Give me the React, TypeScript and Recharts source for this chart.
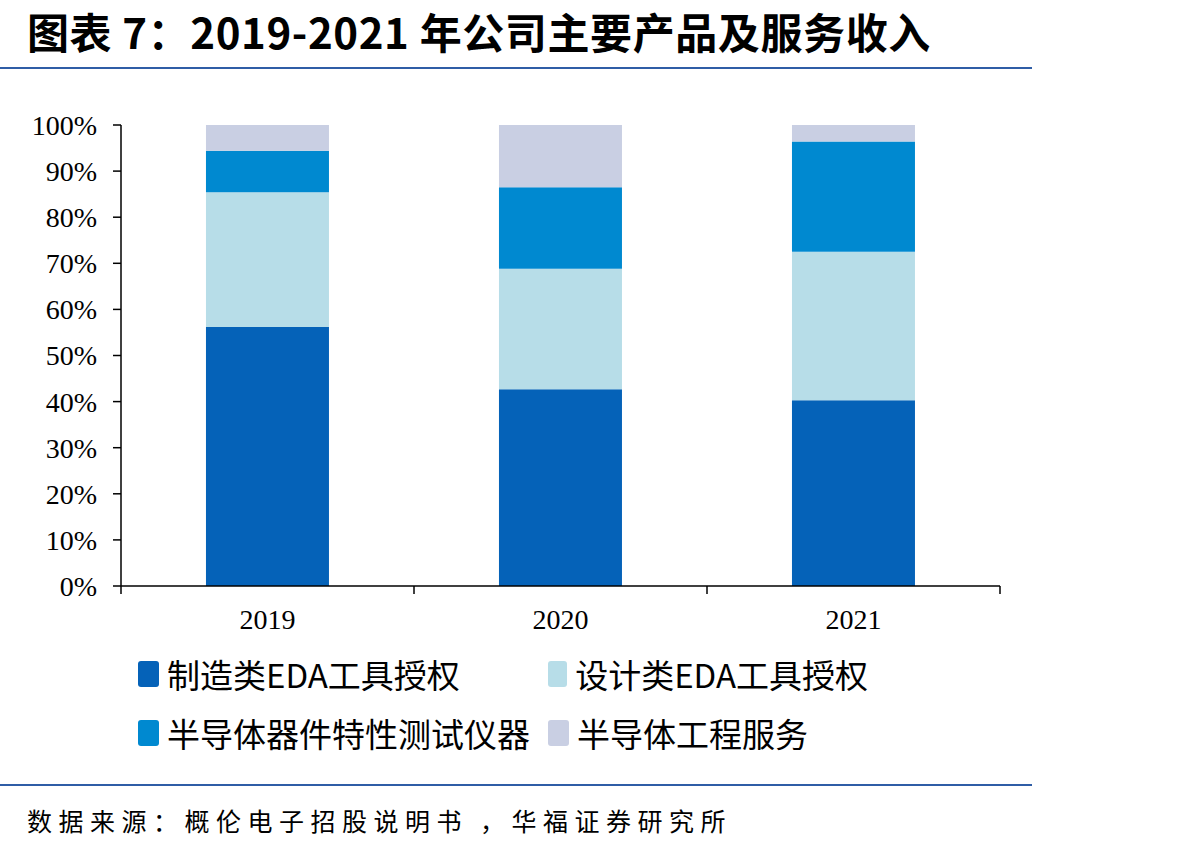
import { Bar, BarChart, XAxis, YAxis } from "recharts";

const years = ["2019", "2020", "2021"];
const mfgEda = [56.2, 42.7, 40.3];
const designEda = [29.2, 26.1, 32.2];
const testInstr = [9.0, 17.7, 23.9];
const engService = [5.6, 13.5, 3.6];
const yTicks = [0, 10, 20, 30, 40, 50, 60, 70, 80, 90, 100];

const series = [
  { key: "mfgEda", name: "制造类EDA工具授权", color: "#0562B8", values: mfgEda },
  { key: "designEda", name: "设计类EDA工具授权", color: "#B7DDE8", values: designEda },
  { key: "testInstr", name: "半导体器件特性测试仪器", color: "#0089D0", values: testInstr },
  { key: "engService", name: "半导体工程服务", color: "#C9CFE3", values: engService },
];

const data = years.map((year, i) => {
  const row: Record<string, string | number> = { year };
  series.forEach((s) => {
    row[s.key] = s.values[i];
  });
  return row;
});

const CHART_W = 1040;
const CHART_H = 700;
const MARGIN = { top: 125, right: 40, left: 0, bottom: 0 };
const Y_W = 121;
const HALF_BAND = (CHART_W - MARGIN.left - MARGIN.right - Y_W) / years.length / 2;

const serif = "'Liberation Serif', 'Times New Roman', serif";
const cjk = "'Noto Sans CJK SC', 'Noto Sans', sans-serif";

function YearTick(props: any) {
  const { x, y, payload, index } = props;
  const top = y - 8;
  return (
    <g>
      <line x1={x - HALF_BAND} x2={x - HALF_BAND} y1={top} y2={y} stroke="#000" strokeWidth={1.5} />
      {index === years.length - 1 && (
        <line x1={x + HALF_BAND} x2={x + HALF_BAND} y1={top} y2={y} stroke="#000" strokeWidth={1.5} />
      )}
      <text x={x} y={y + 35} textAnchor="middle" fontFamily={serif} fontSize={28} fill="#000">
        {payload.value}
      </text>
    </g>
  );
}

export default function App() {
  return (
    <div
      style={{
        position: "absolute",
        left: 0,
        top: 0,
        width: 1189,
        height: 850,
        background: "#fff",
        overflow: "hidden",
      }}
    >
      <div
        style={{
          position: "absolute",
          left: 27,
          top: 0,
          fontFamily: cjk,
          fontWeight: 700,
          fontSize: 42,
          letterSpacing: 0.6,
          lineHeight: "normal",
          color: "#000",
          whiteSpace: "nowrap",
        }}
      >
        图表 7：2019-2021 年公司主要产品及服务收入
      </div>
      <div style={{ position: "absolute", left: 0, top: 67, width: 1032, height: 2, background: "#2F5DA6" }} />

      <div style={{ position: "absolute", left: 0, top: 0 }}>
        <BarChart width={CHART_W} height={CHART_H} data={data} margin={MARGIN} barCategoryGap="29%">
          <YAxis
            width={Y_W}
            domain={[0, 100]}
            ticks={yTicks}
            interval={0}
            tickFormatter={(v) => `${v}%`}
            tickSize={8}
            tickMargin={16}
            axisLine={{ stroke: "#000", strokeWidth: 1.5 }}
            tickLine={{ stroke: "#000", strokeWidth: 1.5 }}
            tick={{ fontFamily: serif, fontSize: 28, fill: "#000" }}
          />
          <XAxis
            dataKey="year"
            height={CHART_H - MARGIN.top - MARGIN.bottom - 461}
            tickSize={8}
            tickMargin={0}
            tickLine={false}
            axisLine={{ stroke: "#000", strokeWidth: 1.5 }}
            tick={<YearTick />}
            interval={0}
          />
          {series.map((s) => (
            <Bar
              key={s.key}
              dataKey={s.key}
              name={s.name}
              stackId="a"
              fill={s.color}
              isAnimationActive={false}
            />
          ))}
        </BarChart>
      </div>

      <div
        style={{
          position: "absolute",
          left: 138,
          top: 651,
          display: "grid",
          gridTemplateColumns: "410px 320px",
          rowGap: 13,
          fontFamily: cjk,
          fontSize: 33,
          color: "#000",
        }}
      >
        {series.map((s) => (
          <div key={s.key} style={{ display: "flex", alignItems: "center", height: 46, whiteSpace: "nowrap" }}>
            <span
              style={{
                display: "inline-block",
                width: 21,
                height: 26,
                borderRadius: 3,
                background: s.color,
                marginRight: 8,
              }}
            />
            {s.name}
          </div>
        ))}
      </div>

      <div style={{ position: "absolute", left: 0, top: 784, width: 1032, height: 2, background: "#2F5DA6" }} />
      <div
        style={{
          position: "absolute",
          left: 27,
          top: 802,
          fontFamily: cjk,
          fontSize: 25,
          letterSpacing: 6.5,
          lineHeight: "36px",
          color: "#000",
          whiteSpace: "nowrap",
        }}
      >
        数据来源：概伦电子招股说明书 ，华福证券研究所
      </div>
    </div>
  );
}
